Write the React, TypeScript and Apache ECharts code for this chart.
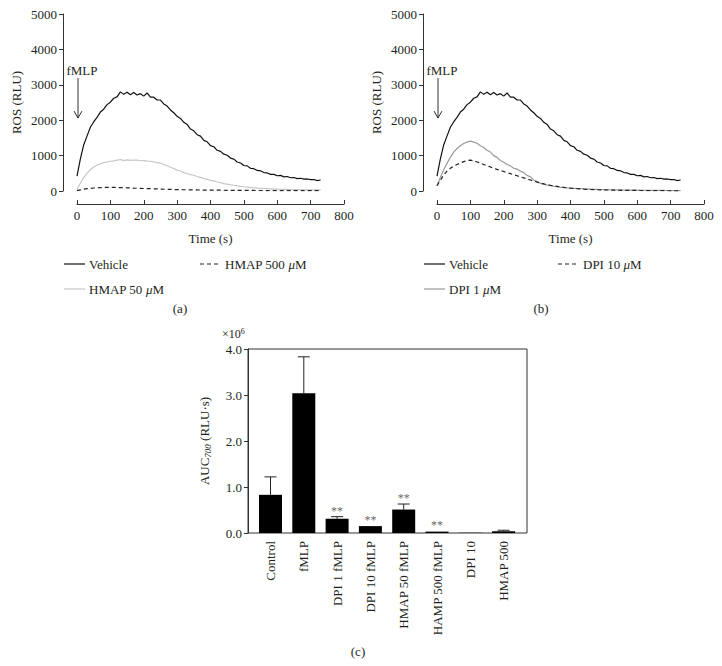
import React, { useEffect, useRef } from 'react';
import * as echarts from 'echarts';

const FONT = 'Liberation Serif, Times New Roman, serif';
const TXT = '#231f20';
const AXIS = '#333333';

// Time points (s)
const times = [
  0, 10, 20, 30, 40, 50, 60, 70, 80, 90,
  100, 110, 120, 130, 140, 150, 160, 170, 180, 190,
  200, 210, 220, 230, 240, 250, 260, 270, 280, 290,
  300, 310, 320, 330, 340, 350, 360, 370, 380, 390,
  400, 410, 420, 430, 440, 450, 460, 470, 480, 490,
  500, 510, 520, 530, 540, 550, 560, 570, 580, 590,
  600, 610, 620, 630, 640, 650, 660, 670, 680, 690,
  700, 710, 720, 730,
];

// ROS (RLU) — vehicle (fMLP only)
const vehicle = [
  420, 900, 1300, 1550, 1800, 1950, 2080, 2230, 2310, 2440,
  2510, 2620, 2660, 2800, 2730, 2790, 2720, 2780, 2710, 2750,
  2680, 2770, 2650, 2650, 2570, 2570, 2460, 2400, 2290, 2210,
  2110, 2050, 1940, 1880, 1750, 1700, 1590, 1550, 1430, 1390,
  1280, 1250, 1150, 1120, 1040, 1010, 930, 900, 820, 790,
  720, 710, 640, 630, 580, 570, 520, 510, 470, 470,
  430, 440, 400, 410, 375, 380, 350, 360, 335, 340,
  320, 325, 295, 310,
];

const hmap50 = [
  50, 220, 380, 500, 600, 680, 730, 770, 800, 820,
  840, 850, 870, 890, 860, 880, 865, 875, 870, 855,
  860, 845, 840, 825, 800, 785, 750, 715, 670, 635,
  590, 565, 520, 495, 460, 445, 410, 385, 350, 335,
  300, 285, 255, 235, 210, 195, 175, 162, 145, 132,
  120, 110, 100, 90, 80, 75, 70, 65, 60, 55,
  55, 50, 48, 45, 42, 40, 38, 36, 35, 33,
  32, 30, 30, 30,
];

const hmap500 = [
  10, 30, 50, 65, 75, 85, 90, 95, 100, 105,
  105, 100, 100, 95, 95, 90, 85, 80, 78, 75,
  70, 68, 65, 62, 60, 55, 50, 48, 45, 42,
  40, 38, 36, 34, 32, 30, 29, 28, 27, 26,
  25, 24, 23, 22, 21, 20, 19, 18, 18, 17,
  16, 16, 15, 15, 14, 14, 13, 13, 12, 12,
  12, 11, 11, 11, 10, 10, 10, 10, 9, 9,
  9, 9, 8, 8,
];

const dpi1 = [
  150, 380, 600, 780, 950, 1100, 1200, 1280, 1340, 1380,
  1410, 1380, 1350, 1280, 1230, 1150, 1100, 1000, 950, 860,
  810, 750, 710, 640, 620, 560, 520, 440, 400, 310,
  270, 215, 195, 165, 155, 130, 125, 105, 100, 88,
  80, 75, 70, 65, 60, 55, 52, 48, 45, 42,
  40, 38, 36, 34, 32, 30, 28, 27, 26, 25,
  24, 22, 21, 20, 19, 18, 17, 16, 15, 14,
  13, 12, 12, 12,
];

const dpi10 = [
  150, 300, 450, 560, 640, 700, 750, 790, 830, 860,
  870, 850, 820, 790, 750, 710, 680, 640, 610, 580,
  550, 520, 490, 460, 430, 400, 370, 340, 310, 280,
  250, 225, 200, 180, 160, 145, 130, 115, 100, 90,
  80, 72, 65, 58, 52, 47, 43, 39, 36, 33,
  30, 28, 26, 24, 22, 20, 19, 18, 17, 16,
  15, 14, 13, 12, 11, 10, 9, 8, 8, 7,
  6, 6, 5, 5,
];

// Panel (c): AUC700 (×10^6 RLU·s)
const groups = [
  'Control', 'fMLP', 'DPI 1 fMLP', 'DPI 10 fMLP',
  'HMAP 50 fMLP', 'HAMP 500 fMLP', 'DPI 10', 'HMAP 500',
];
const aucMean = [0.83, 3.04, 0.31, 0.15, 0.51, 0.03, 0.005, 0.04];
const aucErr = [0.39, 0.79, 0.045, 0.01, 0.12, 0.01, 0.0, 0.02];
const aucSig = [0, 0, 1, 1, 1, 1, 0, 0];

const xTicks = [0, 100, 200, 300, 400, 500, 600, 700, 800];

const COL_VEH = '#111111';
const COL_HMAP50 = '#c6c6c6';
const COL_DPI1 = '#9a9a9a';
const COL_DASH = '#222222';
const DASH = [4, 3];

const pairs = (vals: number[]) => times.map((t, i) => [t, vals[i]]);

const txt = (size = 13) => ({ fontFamily: FONT, fontSize: size, color: TXT });

const timeAxis = (gridIndex: number) => ({
  type: 'value',
  gridIndex,
  min: xTicks[0],
  max: xTicks[xTicks.length - 1],
  interval: 100,
  offset: 13,
  axisLine: { show: true, onZero: false, lineStyle: { color: AXIS, width: 1 } },
  axisTick: { show: true, inside: true, length: 4, lineStyle: { color: AXIS } },
  axisLabel: { ...txt(13), margin: 5, formatter: (v: number) => String(v) },
  splitLine: { show: false },
  name: 'Time (s)',
  nameLocation: 'middle',
  nameGap: 28,
  nameTextStyle: txt(13),
});

const rosAxis = (gridIndex: number) => ({
  type: 'value',
  gridIndex,
  min: 0,
  max: 5000,
  interval: 1000,
  offset: 14,
  axisLine: { show: true, onZero: false, lineStyle: { color: AXIS, width: 1 } },
  axisTick: { show: true, inside: false, length: 4, lineStyle: { color: AXIS } },
  axisLabel: { ...txt(13), margin: 6, formatter: (v: number) => String(v) },
  splitLine: { show: false },
  name: 'ROS (RLU)',
  nameLocation: 'middle',
  nameRotate: 90,
  nameGap: 40,
  nameTextStyle: txt(13),
});

const lineSeries = (name: string, vals: number[], idx: number, color: string, dashed = false, width = 1.2) => ({
  type: 'line',
  name,
  xAxisIndex: idx,
  yAxisIndex: idx,
  data: pairs(vals),
  showSymbol: false,
  symbol: 'none',
  lineStyle: { color, width, type: dashed ? DASH : 'solid' },
  itemStyle: { color },
  z: dashed ? 3 : 2,
});

const legendItem = (x: number, y: number, label: string, color: string, dashed: boolean) => ({
  type: 'group',
  children: [
    {
      type: 'line',
      shape: { x1: x, y1: y, x2: x + 21, y2: y },
      style: { stroke: color, lineWidth: 1.2, lineDash: dashed ? DASH : null },
    },
    {
      type: 'text',
      x: x + 25,
      y,
      style: {
        text: label.replace('μ', '{i|μ}'),
        fill: TXT,
        font: `13px ${FONT}`,
        verticalAlign: 'middle',
        rich: { i: { fontFamily: FONT, fontSize: 13, fontStyle: 'italic', fill: TXT } },
      },
    },
  ],
});

export default function App() {
  const ref = useRef<HTMLDivElement>(null);

  useEffect(() => {
    document.body.style.margin = '0';
    const chart = echarts.init(ref.current!, null, { renderer: 'svg' });

    const option: any = {
      animation: false,
      backgroundColor: '#ffffff',
      grid: [
        { left: 77, top: 14, width: 267, height: 177 },
        { left: 437, top: 14, width: 267, height: 177 },
        { left: 248, top: 349, width: 279, height: 184, show: true, borderColor: AXIS, borderWidth: 1, backgroundColor: 'transparent' },
        { left: 253.85, top: 349, width: 266.4, height: 184 },
      ],
      xAxis: [
        timeAxis(0),
        timeAxis(1),
        { type: 'value', gridIndex: 2, min: 0, max: 1, show: false },
        {
          type: 'category',
          gridIndex: 3,
          data: groups,
          axisLine: { show: false },
          axisTick: { show: false },
          axisLabel: { ...txt(13), rotate: 90, margin: 8, interval: 0 },
        },
      ],
      yAxis: [
        rosAxis(0),
        rosAxis(1),
        {
          type: 'value',
          gridIndex: 2,
          min: 0,
          max: 4,
          interval: 1,
          axisLine: { show: true, onZero: false, lineStyle: { color: AXIS, width: 1 } },
          axisTick: { show: true, inside: false, length: 4, lineStyle: { color: AXIS } },
          axisLabel: { ...txt(13), margin: 6, formatter: (v: number) => v.toFixed(1) },
          splitLine: { show: false },
          name: '{a|AUC}{s|700}{a| (RLU·s)}',
          nameLocation: 'middle',
          nameRotate: 90,
          nameGap: 36,
          nameTextStyle: {
            ...txt(13),
            rich: {
              a: { ...txt(13), lineHeight: 16, verticalAlign: 'middle' },
              s: { ...txt(9), fontStyle: 'italic', lineHeight: 16, verticalAlign: 'bottom', padding: [8, 0, 0, 0] },
            },
          },
        },
        { type: 'value', gridIndex: 3, min: 0, max: 4, show: false },
      ],
      series: [
        lineSeries('Vehicle', vehicle, 0, COL_VEH),
        lineSeries('HMAP 50 μM', hmap50, 0, COL_HMAP50),
        lineSeries('HMAP 500 μM', hmap500, 0, COL_DASH, true),
        lineSeries('Vehicle', vehicle, 1, COL_VEH),
        lineSeries('DPI 1 μM', dpi1, 1, COL_DPI1),
        lineSeries('DPI 10 μM', dpi10, 1, COL_DASH, true),
        {
          type: 'bar',
          name: 'AUC',
          xAxisIndex: 3,
          yAxisIndex: 3,
          data: aucMean,
          barWidth: 23,
          itemStyle: { color: '#000000' },
          z: 2,
        },
        {
          type: 'custom',
          name: 'err',
          xAxisIndex: 3,
          yAxisIndex: 3,
          itemStyle: { color: '#222222' },
          data: groups.map((_, i) => [i, aucMean[i], aucErr[i]]),
          z: 3,
          renderItem: (_params: any, api: any) => {
            const i = api.value(0);
            const m = api.value(1);
            const e = api.value(2);
            const base = api.coord([i, m]);
            const top = api.coord([i, m + e]);
            if (e < 0.015) return { type: 'group', children: [] };
            return {
              type: 'group',
              children: [
                {
                  type: 'line',
                  shape: { x1: base[0], y1: base[1], x2: top[0], y2: top[1] },
                  style: { stroke: '#222', lineWidth: 1 },
                },
                {
                  type: 'line',
                  shape: { x1: top[0] - 6, y1: top[1], x2: top[0] + 6, y2: top[1] },
                  style: { stroke: '#222', lineWidth: 1 },
                },
              ],
            };
          },
        },
        {
          type: 'scatter',
          name: 'sig',
          xAxisIndex: 3,
          yAxisIndex: 3,
          symbolSize: 0,
          itemStyle: { color: TXT },
          data: groups
            .map((_, i) => [i, aucMean[i] + aucErr[i], aucSig[i]])
            .filter((d) => d[2] === 1)
            .map((d) => [d[0], d[1]]),
          label: {
            show: true,
            position: 'top',
            distance: 0,
            formatter: '**',
            fontFamily: FONT,
            fontSize: 12,
            color: '#3a3a3a',
          },
          z: 4,
        },
      ],
    };

    chart.setOption(option);

    const arrowParts = (gridIndex: number) => {
      const top = chart.convertToPixel({ gridIndex } as any, [3, 3190]) as number[];
      const tip = chart.convertToPixel({ gridIndex } as any, [3, 2060]) as number[];
      const lbl = chart.convertToPixel({ gridIndex } as any, [15, 3390]) as number[];
      return [
        {
          type: 'text',
          x: lbl[0],
          y: lbl[1],
          style: { text: 'fMLP', fill: TXT, font: `13px ${FONT}`, align: 'center', verticalAlign: 'middle' },
        },
        {
          type: 'line',
          shape: { x1: top[0], y1: top[1], x2: tip[0], y2: tip[1] },
          style: { stroke: '#333', lineWidth: 1 },
        },
        {
          type: 'polyline',
          shape: { points: [[tip[0] - 4, tip[1] - 7], [tip[0], tip[1]], [tip[0] + 4, tip[1] - 7]] },
          style: { stroke: '#333', lineWidth: 1, fill: 'none' },
        },
      ];
    };

    const caption = (x: number, y: number, t: string) => ({
      type: 'text',
      x,
      y,
      style: { text: t, fill: TXT, font: `13px ${FONT}`, align: 'center', verticalAlign: 'middle' },
    });

    chart.setOption({
      graphic: [
        ...arrowParts(0),
        ...arrowParts(1),
        legendItem(64, 264, 'Vehicle', COL_VEH, false),
        legendItem(200, 264, 'HMAP 500 μM', COL_DASH, true),
        legendItem(64, 289, 'HMAP 50 μM', COL_HMAP50, false),
        legendItem(424, 264, 'Vehicle', COL_VEH, false),
        legendItem(558, 264, 'DPI 10 μM', COL_DASH, true),
        legendItem(424, 289, 'DPI 1 μM', COL_DPI1, false),
        caption(180, 308, '(a)'),
        caption(541, 308, '(b)'),
        caption(358, 651, '(c)'),
        {
          type: 'text',
          x: 222,
          y: 327,
          style: {
            text: '×10{sup|6}',
            fill: TXT,
            font: `12px ${FONT}`,
            rich: { sup: { fontFamily: FONT, fontSize: 8, fill: TXT, verticalAlign: 'top', padding: [0, 0, 6, 0] } },
          },
        },
      ],
    });

    return () => chart.dispose();
  }, []);

  return <div ref={ref} style={{ width: 722, height: 666 }} />;
}
